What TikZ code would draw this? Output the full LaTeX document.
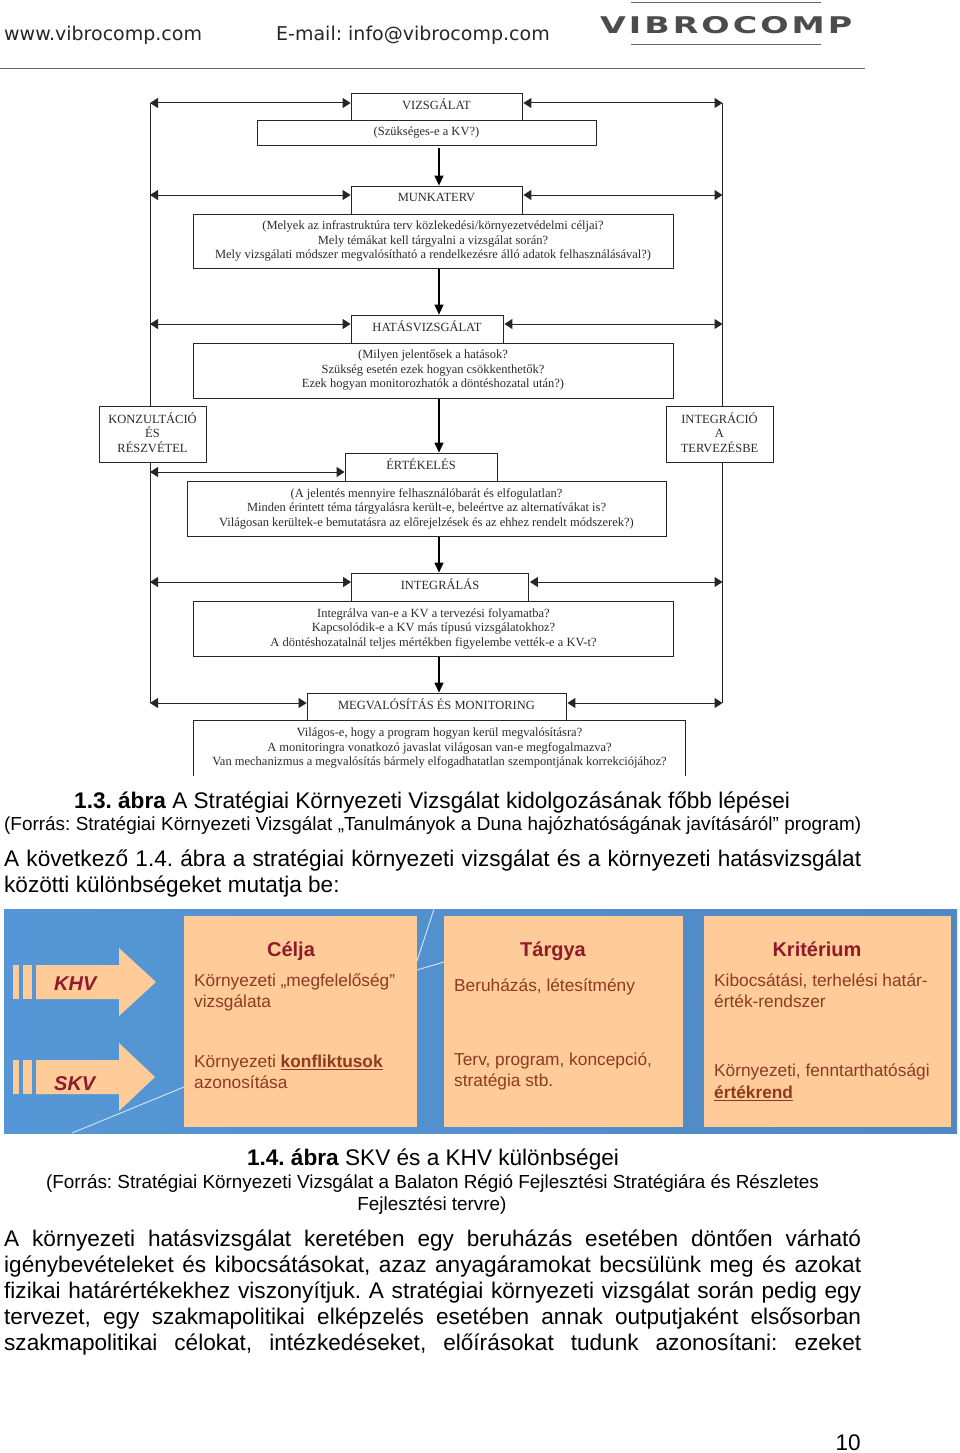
\documentclass[tikz,border=0pt]{standalone}
\usepackage{fontspec}
\setmainfont{Liberation Sans}
\newfontfamily\flowfont{Liberation Serif}
\newfontfamily\webfont{DejaVu Sans}
\newfontfamily\logofont[LetterSpace=13,FakeStretch=1.45]{DejaVu Sans Bold}
\usetikzlibrary{arrows.meta,positioning,shapes}
\usetikzlibrary{calc}

\definecolor{inkline}{HTML}{262626}
\definecolor{inktext}{HTML}{2B2B2B}
\definecolor{panel}{HTML}{FFCC99}
\definecolor{panelhead}{HTML}{8F1A2A}
\definecolor{paneltext}{HTML}{8E3A22}
\definecolor{photoleft}{HTML}{5597D6}
\definecolor{photoright}{HTML}{5088C4}

\tikzset{
  headbox/.style={draw=inkline, line width=0.8pt, fill=white, inner sep=0pt,
    text=inktext, font=\flowfont\fontsize{12.5}{14.5}\selectfont, align=center},
  subbox/.style={headbox, line width=1pt},
  sidebox/.style={headbox, minimum width=107, minimum height=56},
  bothway/.style={draw=inkline, line width=1pt, {Triangle[length=8pt,width=10pt]}-{Triangle[length=8pt,width=10pt]}},
  oneway/.style={draw=black, line width=1.2pt, -{Triangle[length=10pt,width=9pt]}},
  rail/.style={draw=inkline, line width=0.8pt},
  bodyline/.style={anchor=base west, inner sep=0pt, text=black, font=\fontsize{22.6}{24}\selectfont},
  citeline/.style={anchor=base, inner sep=0pt, text=black, font=\fontsize{18.9}{20}\selectfont},
  titleline/.style={anchor=base, inner sep=0pt, text=black, font=\fontsize{22.6}{24}\selectfont},
  webline/.style={anchor=base west, inner sep=0pt, text=black!85, font=\webfont\fontsize{19}{22}\selectfont},
  panelbox/.style={fill=panel, inner sep=0pt},
  panelhd/.style={anchor=base, inner sep=0pt, text=panelhead, font=\bfseries\fontsize{20}{24}\selectfont},
  paneltx/.style={anchor=north west, inner sep=0pt, text=paneltext, align=left, font=\fontsize{17.3}{21.5}\selectfont},
  arrowtx/.style={anchor=base west, inner sep=0pt, text=panelhead, font=\bfseries\itshape\fontsize{20}{24}\selectfont},
}

\begin{document}
\frenchspacing
\begin{tikzpicture}[x=1pt, y=-1pt]
  \useasboundingbox (0, 0) rectangle (960, 1453);

  % header
  \node[webline] (web) at (4, 41) {www.vibrocomp.com};
  \node[webline] (mail) at (276, 41) {E-mail: info@vibrocomp.com};
  \node[anchor=base west, inner sep=0pt, text=black!70, font=\logofont\fontsize{23}{24}\selectfont] (logo) at (600, 33.5) {VIBROCOMP};
  \draw[black!60, line width=1pt] (631, 3) -- (821, 3);
  \draw[black!60, line width=1pt] (631, 45) -- (821, 45);
  \draw[black!60, line width=1pt] (0, 69) -- (865, 69);

  % flow chart
  \coordinate (axis) at (439, 0);
  \coordinate (ltop) at (150, 103);
  \coordinate (rtop) at (722.5, 103);
  \coordinate (lplan) at (150, 195);
  \coordinate (rplan) at (722.5, 195);
  \coordinate (limpact) at (150, 324);
  \coordinate (rimpact) at (722.5, 324);
  \coordinate (leval) at (150, 472);
  \coordinate (lint) at (150, 582);
  \coordinate (rint) at (722.5, 582);
  \coordinate (lmon) at (150, 703);
  \coordinate (rmon) at (722.5, 703);

  \node[sidebox] (konz) at (152.5, 434.5) {KONZULTÁCIÓ\\ÉS\\RÉSZVÉTEL\\[-10.5pt]};
  \node[sidebox] (integ) at (719.5, 434.5) {INTEGRÁCIÓ\\A\\TERVEZÉSBE\\[-10.5pt]};

  \draw[rail] (ltop) -- (ltop |- konz.north);
  \draw[rail] (lmon |- konz.south) -- (lmon);
  \draw[rail] (rtop) -- (rtop |- integ.north);
  \draw[rail] (rmon |- integ.south) -- (rmon);

  \node[headbox, minimum width=171, minimum height=27] (vizsg) at (436.5, 107) {VIZSGÁLAT\\[-9.5pt]};
  \node[subbox, minimum width=339, minimum height=25] (vizsgsub) at (426.5, 133) {(Szükséges-e a KV?)};

  \node[headbox, minimum width=171, minimum height=28] (terv) at (436.5, 200) {MUNKATERV\\[-9.5pt]};
  \node[subbox, minimum width=480, minimum height=54] (tervsub) at (433, 241) {(Melyek az infrastruktúra terv közlekedési/környezetvédelmi céljai?\\Mely témákat kell tárgyalni a vizsgálat során?\\Mely vizsgálati módszer megvalósítható a rendelkezésre álló adatok felhasználásával?)};

  \node[headbox, minimum width=152, minimum height=28] (hatas) at (427, 329) {HATÁSVIZSGÁLAT\\[-9.5pt]};
  \node[subbox, minimum width=480, minimum height=55] (hatassub) at (433, 370.5) {(Milyen jelentősek a hatások?\\Szükség esetén ezek hogyan csökkenthetők?\\Ezek hogyan monitorozhatók a döntéshozatal után?)};

  \node[headbox, minimum width=152, minimum height=28] (ertek) at (421, 467) {ÉRTÉKELÉS\\[-8.5pt]};
  \node[subbox, minimum width=479, minimum height=55] (erteksub) at (426.5, 508.5) {(A jelentés mennyire felhasználóbarát és elfogulatlan?\\Minden érintett téma tárgyalásra került-e, beleértve az alternatívákat is?\\Világosan kerültek-e bemutatásra az előrejelzések és az ehhez rendelt módszerek?)};

  \node[headbox, minimum width=177, minimum height=28] (integr) at (440, 587) {INTEGRÁLÁS\\[-9.5pt]};
  \node[subbox, minimum width=480, minimum height=55] (integrsub) at (433.5, 628.5) {Integrálva van-e a KV a tervezési folyamatba?\\Kapcsolódik-e a KV más típusú vizsgálatokhoz?\\A döntéshozatalnál teljes mértékben figyelembe vették-e a KV-t?};

  \node[headbox, minimum width=259, minimum height=28] (megv) at (436.5, 707) {MEGVALÓSÍTÁS ÉS MONITORING\\[-9.5pt]};
  \node[headbox, draw=none, minimum width=492, minimum height=55] (megvsub) at (439.5, 748) {Világos-e, hogy a program hogyan kerül megvalósításra?\\A monitoringra vonatkozó javaslat világosan van-e megfogalmazva?\\Van mechanizmus a megvalósítás bármely elfogadhatatlan szempontjának korrekciójához?};
  \draw[inkline, line width=1pt] (megvsub.south west) -- (megvsub.north west) -- (megvsub.north east) -- (megvsub.south east);

  \draw[bothway] (ltop) -- (ltop -| vizsg.west);
  \draw[bothway] ($(rtop -| vizsg.east)+(1, 0)$) -- (rtop);
  \draw[bothway] (lplan) -- (lplan -| terv.west);
  \draw[bothway] ($(rplan -| terv.east)+(1, 0)$) -- (rplan);
  \draw[bothway] (limpact) -- (limpact -| hatas.west);
  \draw[bothway] ($(rimpact -| hatas.east)+(1, 0)$) -- (rimpact);
  \draw[bothway] (leval) -- (leval -| ertek.west);
  \draw[bothway] (lint) -- (lint -| integr.west);
  \draw[bothway] ($(rint -| integr.east)+(1, 0)$) -- (rint);
  \draw[bothway] (lmon) -- (lmon -| megv.west);
  \draw[bothway] ($(rmon -| megv.east)+(1, 0)$) -- (rmon);

  \draw[oneway, shorten <=2pt] (axis |- vizsgsub.south) -- (axis |- terv.north);
  \draw[oneway] (axis |- tervsub.south) -- (axis |- hatas.north);
  \draw[oneway] (axis |- hatassub.south) -- (axis |- ertek.north);
  \draw[oneway] (axis |- erteksub.south) -- (axis |- integr.north);
  \draw[oneway] (axis |- integrsub.south) -- (axis |- megv.north);

  % captions and text
  \node[titleline, anchor=base west] (cap) at (74, 808) {\textbf{1.3. ábra} A Stratégiai Környezeti Vizsgálat kidolgozásának főbb lépései};
  \node[citeline, anchor=base west] (capsrc) at (4, 830) {\makebox[857pt][s]{(Forrás: Stratégiai Környezeti Vizsgálat „Tanulmányok a Duna hajózhatóságának javításáról” program)}};
  \node[bodyline] (parone) at (4, 866) {\makebox[857pt][s]{A következő 1.4. ábra a stratégiai környezeti vizsgálat és a környezeti hatásvizsgálat}};
  \node[bodyline] (partwo) at (4, 892) {közötti különbségeket mutatja be:};

  % photo with the table
  \shade[left color=photoleft, right color=photoright] (4, 909) rectangle (957, 1133);
  \draw[white!70!photoleft, line width=1pt] (72, 1133) -- (184, 1087);
  \draw[white!70!photoleft, line width=1pt] (417, 961) -- (434, 909);
  \draw[white!70!photoleft, line width=1pt] (417, 970) -- (444, 962);

  \node[panelbox, minimum width=233, minimum height=211] (cel) at (300.5, 1021.5) {};
  \node[panelbox, minimum width=239, minimum height=211] (targy) at (563.5, 1021.5) {};
  \node[panelbox, minimum width=247, minimum height=211] (krit) at (827.5, 1021.5) {};

  \foreach \ytop/\ymid/\ybot/\tipx in {965/982/999/156, 1060/1077/1094/155} {
    \fill[panel] (13, \ytop) rectangle (19, \ybot);
    \fill[panel] (23, \ytop) rectangle (32, \ybot);
    \fill[panel] (36, \ytop) -- (119, \ytop) -- (119, \ytop-17) -- (\tipx, \ymid) -- (119, \ybot+17) -- (119, \ybot) -- (36, \ybot) -- cycle;
  }
  \node[arrowtx] (khv) at (54, 990) {KHV};
  \node[arrowtx] (skv) at (54, 1090) {SKV};

  \node[panelhd] (celhd) at (291, 956) {Célja};
  \node[panelhd] (targyhd) at (553, 956) {Tárgya};
  \node[panelhd] (krithd) at (817, 956) {Kritérium};

  \node[paneltx] (celone) at (194, 973.5) {Környezeti „megfelelőség”\\vizsgálata};
  \node[paneltx] (celtwo) at (194, 1054.5) {Környezeti \underline{\textbf{konfliktusok}}\\azonosítása};
  \node[paneltx] (targyone) at (454, 979) {Beruházás, létesítmény};
  \node[paneltx] (targytwo) at (454, 1052.5) {Terv, program, koncepció,\\stratégia stb.};
  \node[paneltx] (kritone) at (714, 973.5) {Kibocsátási, terhelési határ-\\érték-rendszer};
  \node[paneltx] (krittwo) at (714, 1064) {Környezeti, fenntarthatósági\\\underline{\textbf{értékrend}}};

  \node[titleline] (captwo) at (433, 1165) {\textbf{1.4. ábra} SKV és a KHV különbségei};
  \node[citeline] (capsrcone) at (432.5, 1188) {(Forrás: Stratégiai Környezeti Vizsgálat a Balaton Régió Fejlesztési Stratégiára és Részletes};
  \node[citeline] (capsrctwo) at (432, 1210) {Fejlesztési tervre)};

  \node[bodyline] (lineone) at (4, 1246) {\makebox[857pt][s]{A környezeti hatásvizsgálat keretében egy beruházás esetében döntően várható}};
  \node[bodyline] (linetwo) at (4, 1272) {\makebox[857pt][s]{igénybevételeket és kibocsátásokat, azaz anyagáramokat becsülünk meg és azokat}};
  \node[bodyline] (linethree) at (4, 1298) {\makebox[857pt][s]{fizikai határértékekhez viszonyítjuk. A stratégiai környezeti vizsgálat során pedig egy}};
  \node[bodyline] (linefour) at (4, 1324) {\makebox[857pt][s]{tervezet, egy szakmapolitikai elképzelés esetében annak outputjaként elsősorban}};
  \node[bodyline] (linefive) at (4, 1350) {\makebox[857pt][s]{szakmapolitikai célokat, intézkedéseket, előírásokat tudunk azonosítani: ezeket}};

  \node[bodyline, anchor=base east] (pagenum) at (861, 1450) {10};
\end{tikzpicture}
\end{document}
